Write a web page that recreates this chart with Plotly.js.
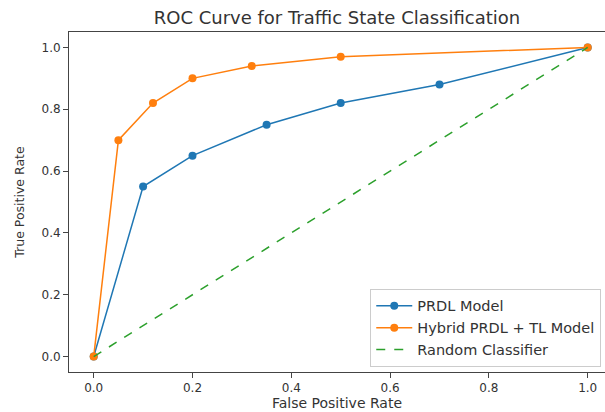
<!DOCTYPE html>
<html><head><meta charset="utf-8">
<script src="https://cdn.plot.ly/plotly-3.0.1.min.js"></script>
<style>html,body{margin:0;padding:0;background:#fff}</style>
</head><body><div id="chart" style="width:605px;height:412px"></div>
<script>
const prdlFpr = [0, 0.1, 0.2, 0.35, 0.5, 0.7, 1.0];
const prdlTpr = [0, 0.55, 0.65, 0.75, 0.82, 0.88, 1.0];
const hybridFpr = [0, 0.05, 0.12, 0.2, 0.32, 0.5, 1.0];
const hybridTpr = [0, 0.70, 0.82, 0.90, 0.94, 0.97, 1.0];
const randomFpr = [0, 1];
const randomTpr = [0, 1];
const tickVals = [0, 0.2, 0.4, 0.6, 0.8, 1.0];
const tickText = ['0.0', '0.2', '0.4', '0.6', '0.8', '1.0'];

const font = {family: 'DejaVu Sans, sans-serif', color: '#333'};
const traces = [
  {x: prdlFpr, y: prdlTpr, mode: 'lines+markers', name: 'PRDL Model',
   line: {color: '#1f77b4', width: 1.5}, marker: {color: '#1f77b4', size: 8}},
  {x: hybridFpr, y: hybridTpr, mode: 'lines+markers', name: 'Hybrid PRDL + TL Model',
   line: {color: '#ff7f0e', width: 1.5}, marker: {color: '#ff7f0e', size: 8}},
  {x: randomFpr, y: randomTpr, mode: 'lines', name: 'Random Classifier',
   line: {color: '#2ca02c', width: 1.5, dash: 'dash'}}
];
const layout = {
  width: 605, height: 412,
  margin: {l: 69, r: 0, t: 32, b: 40},
  paper_bgcolor: '#fff', plot_bgcolor: '#fff',
  font: Object.assign({size: 11}, font),
  title: {text: 'ROC Curve for Traffic State Classification', font: Object.assign({size: 18}, font),
          x: 0.5, xanchor: 'center', xref: 'paper', y: 0.957, yanchor: 'middle'},
  xaxis: {range: [-0.05, 1.035], tickvals: tickVals, ticktext: tickText,
          showgrid: false, zeroline: false, showline: true, mirror: true,
          linecolor: '#444', linewidth: 1, ticks: 'outside', ticklen: 5, tickcolor: '#444',
          tickfont: Object.assign({size: 12}, font),
          title: {text: 'False Positive Rate', font: Object.assign({size: 14}, font), standoff: 3}},
  yaxis: {range: [-0.05, 1.05], tickvals: tickVals, ticktext: tickText,
          showgrid: false, zeroline: false, showline: true, mirror: true,
          linecolor: '#444', linewidth: 1, ticks: 'outside', ticklen: 5, tickcolor: '#444',
          tickfont: Object.assign({size: 12}, font),
          title: {text: 'True Positive Rate', font: Object.assign({size: 12.5}, font), standoff: 14}},
  showlegend: true,
  legend: {x: 0.993, y: 0.015, xanchor: 'right', yanchor: 'bottom',
           bgcolor: 'rgba(255,255,255,0.8)', bordercolor: '#ccc', borderwidth: 1,
           font: Object.assign({size: 14.5}, font), tracegroupgap: 0, itemwidth: 36}
};
Plotly.newPlot('chart', traces, layout, {displayModeBar: false, staticPlot: true});
</script></body></html>
